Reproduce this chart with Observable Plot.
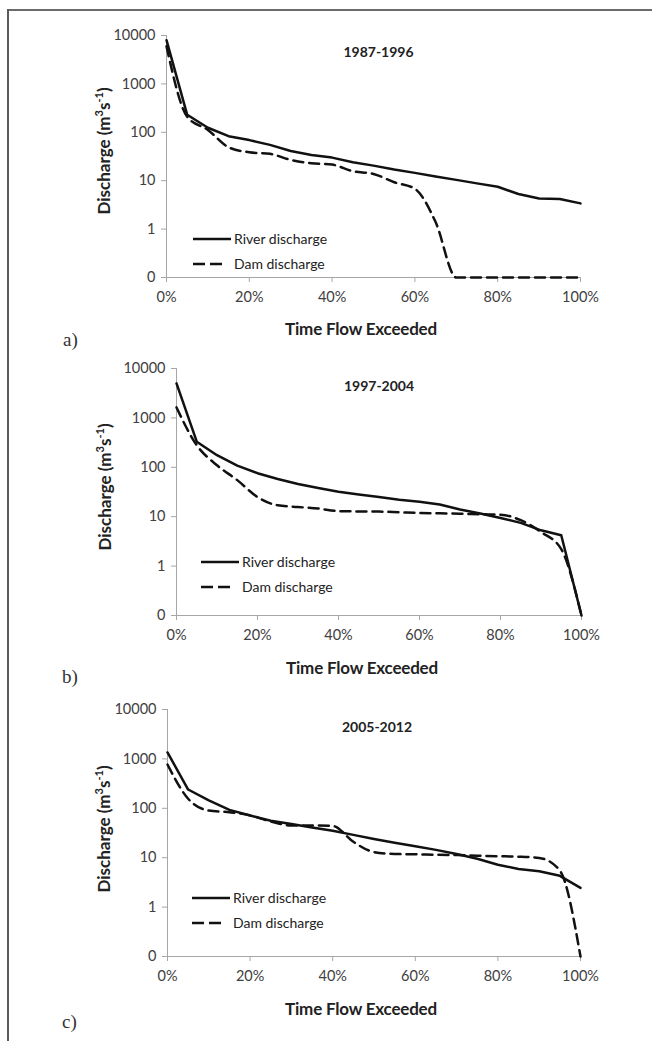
<!DOCTYPE html>
<html>
<head>
<meta charset="utf-8">
<script src="https://cdn.jsdelivr.net/npm/d3@7"></script>
<script src="https://cdn.jsdelivr.net/npm/@observablehq/plot@0.6"></script>
<style>
  html, body { margin: 0; padding: 0; background: #fff; }
  #fig { position: relative; width: 652px; height: 1041px; overflow: hidden; font-family: Lato, "Open Sans", sans-serif; }
  .abs { position: absolute; }
  .ytitle { font-weight: bold; font-size: 17px; color: #222; white-space: nowrap; transform: translate(-50%, -50%) rotate(-90deg); }
  .xtitle { font-weight: bold; font-size: 17px; color: #222; white-space: nowrap; transform: translate(-50%, -50%); letter-spacing: -0.2px; }
  .letter { font-family: "Liberation Serif", "DejaVu Serif", serif; font-size: 19px; color: #333; transform: translateY(-50%); }
  .leg { font-size: 14px; color: #222; white-space: nowrap; }
  .leg div { display: flex; align-items: center; height: 25px; }
  .leg svg { margin-right: 3px; }
</style>
</head>
<body>
<div id="fig"></div>
<script>
// ---- data ----
const pct = [0, 5, 10, 15, 20, 25, 30, 35, 40, 45, 50, 55, 60, 65, 70, 75, 80, 85, 90, 95, 100];
const riverA = [8000, 230, 124, 83, 69, 55, 41, 34, 30, 24, 20.5, 17, 14.5, 12.2, 10.4, 8.8, 7.5, 5.3, 4.3, 4.2, 3.4];
const damA   = [6000, 210, 112, 49, 38.7, 35.9, 27, 22.9, 21.5, 15.7, 13.8, 9.3, 6.8, 1.4, 0.1, 0.1, 0.1, 0.1, 0.1, 0.1, 0.1];
const riverB = [5000, 330, 176, 108, 76, 58, 46, 38, 32, 28, 25, 22, 20, 17.6, 14, 11.6, 9.4, 7.5, 5.3, 4.2, 0.1];
const damB   = [1630, 280, 110, 55, 25, 17, 15.7, 14.6, 13, 12.8, 12.7, 12.3, 11.9, 11.7, 11.5, 11.2, 11, 8.5, 4.9, 2.2, 0.1];
const riverC = [1350, 240, 144, 93, 71.5, 56, 48, 41, 35, 29, 24, 20, 17, 14.4, 11.9, 9.5, 7.2, 5.9, 5.3, 4.3, 2.45];
const damC   = [770, 156, 90, 83, 72, 54, 45, 45, 44, 21, 13, 11.9, 11.7, 11.5, 11.3, 11, 10.7, 10.5, 9.9, 5.5, 0.1];
const periods = ["1987-1996", "1997-2004", "2005-2012"];
const panelLetters = ["a)", "b)", "c)"];
const seriesNames = ["River discharge", "Dam discharge"];
const xTicks = [0, 20, 40, 60, 80, 100];
const yTicks = [0.1, 1, 10, 100, 1000, 10000];
const yTickLabels = ["0", "1", "10", "100", "1000", "10000"];
const xTitle = "Time Flow Exceeded";

// ---- layout per panel ----
const panels = [
  {river: riverA, dam: damA, top: 0,   height: 350, mt: 35, mb: 73, ml: 166, mr: 72, titleDx: 5, titleDy: 17,
   ytitle: [103, 151], xtitle: [361, 328], letter: [63, 340], legend: [193, 226]},
  {river: riverB, dam: damB, top: 350, height: 340, mt: 18, mb: 75, ml: 176, mr: 71, titleDx: 0, titleDy: 18,
   ytitle: [104, 487], xtitle: [362, 667], letter: [62, 677], legend: [201, 549]},
  {river: riverC, dam: damC, top: 690, height: 351, mt: 19, mb: 85, ml: 167, mr: 72, titleDx: 3, titleDy: 18,
   ytitle: [103, 829], xtitle: [361, 1008], letter: [62, 1022], legend: [192, 885]}
];

const fig = document.getElementById("fig");

// frame lines
const topLine = document.createElement("div");
topLine.className = "abs";
Object.assign(topLine.style, {left: "7px", top: "9px", width: "645px", height: "2px", background: "#6b6b6b"});
fig.appendChild(topLine);
const leftLine = document.createElement("div");
leftLine.className = "abs";
Object.assign(leftLine.style, {left: "7px", top: "9px", width: "2px", height: "1032px", background: "#5a5a5a"});
fig.appendChild(leftLine);

panels.forEach((p, i) => {
  const rows = pct.map((x, j) => ({x, river: p.river[j], dam: p.dam[j]}));
  const chart = Plot.plot({
    width: 652,
    height: p.height,
    marginTop: p.mt, marginBottom: p.mb, marginLeft: p.ml, marginRight: p.mr,
    style: {fontFamily: "Lato, 'Open Sans', sans-serif", fontSize: "14.5px", background: "transparent"},
    x: {domain: [0, 100]},
    y: {type: "log", domain: [0.1, 10000]},
    marks: [
      Plot.axisX({ticks: xTicks, tickFormat: d => d + "%", tickSize: 5, tickPadding: 9, stroke: "#a6a6a6", color: "#404040", label: null}),
      Plot.axisY({ticks: yTicks, tickFormat: d => yTickLabels[yTicks.indexOf(d)], tickSize: 5, tickPadding: 6, stroke: "#a6a6a6", color: "#404040", label: null}),
      Plot.ruleY([0.1], {stroke: "#a6a6a6"}),
      Plot.ruleX([0], {stroke: "#a6a6a6"}),
      Plot.line(rows, {x: "x", y: "dam", stroke: "#111", strokeWidth: 2.5, strokeDasharray: "10,6", curve: "monotone-x"}),
      Plot.line(rows, {x: "x", y: "river", stroke: "#111", strokeWidth: 2.5}),
      Plot.text([periods[i]], {frameAnchor: "top", lineAnchor: "middle", dx: p.titleDx, dy: p.titleDy, fontWeight: "bold", fontSize: 14, fill: "#222"})
    ]
  });
  const wrap = document.createElement("div");
  wrap.className = "abs";
  wrap.style.left = "0px";
  wrap.style.top = p.top + "px";
  wrap.appendChild(chart);
  fig.appendChild(wrap);

  // y title
  const yt = document.createElement("div");
  yt.className = "abs ytitle";
  yt.style.left = p.ytitle[0] + "px";
  yt.style.top = p.ytitle[1] + "px";
  yt.innerHTML = "Discharge (m<sup style='font-size:11px'>3</sup>s<sup style='font-size:11px'>-1</sup>)";
  fig.appendChild(yt);

  // x title
  const xt = document.createElement("div");
  xt.className = "abs xtitle";
  xt.style.left = p.xtitle[0] + "px";
  xt.style.top = p.xtitle[1] + "px";
  xt.textContent = xTitle;
  fig.appendChild(xt);

  // panel letter
  const lt = document.createElement("div");
  lt.className = "abs letter";
  lt.style.left = p.letter[0] + "px";
  lt.style.top = p.letter[1] + "px";
  lt.textContent = panelLetters[i];
  fig.appendChild(lt);

  // legend
  const lg = document.createElement("div");
  lg.className = "abs leg";
  lg.style.left = p.legend[0] + "px";
  lg.style.top = p.legend[1] + "px";
  lg.innerHTML =
    `<div><svg width="38" height="6"><line x1="0" x2="38" y1="3" y2="3" stroke="#111" stroke-width="2.5"/></svg>${seriesNames[0]}</div>` +
    `<div><svg width="38" height="6"><line x1="0" x2="29" y1="3" y2="3" stroke="#111" stroke-width="2.5" stroke-dasharray="12,5"/></svg>${seriesNames[1]}</div>`;
  fig.appendChild(lg);
});
</script>
</body>
</html>
